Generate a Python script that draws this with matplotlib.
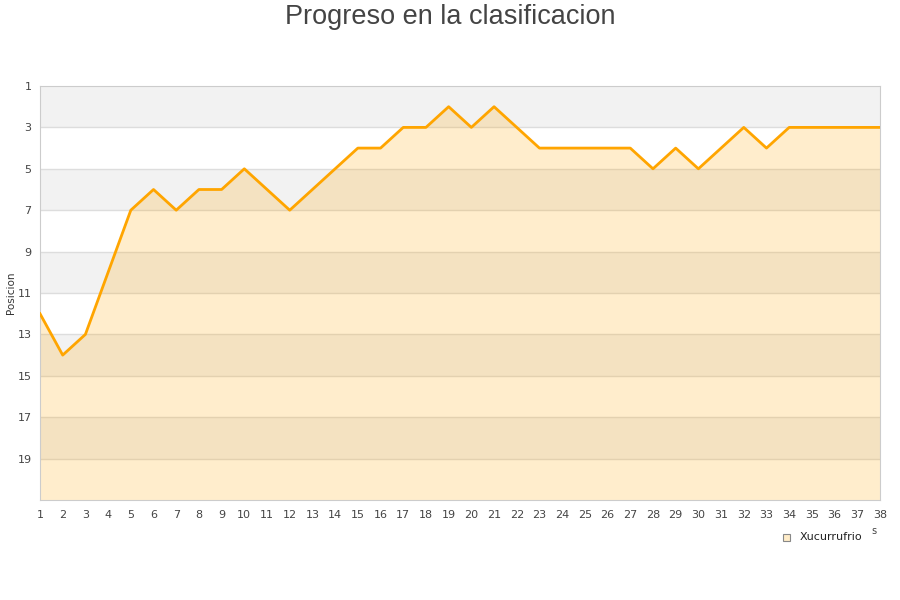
import matplotlib

matplotlib.use("Agg")
import matplotlib.pyplot as plt
from matplotlib.patches import Rectangle

jornadas = list(range(1, 39))
posiciones = [12, 14, 13, 10, 7, 6, 7, 6, 6, 5,
              6, 7, 6, 5, 4, 4, 3, 3, 2, 3,
              2, 3, 4, 4, 4, 4, 4, 5, 4, 5,
              4, 3, 4, 3, 3, 3, 3, 3]
y_ticks = list(range(1, 21, 2))
equipo = "Xucurrufrio"

fig = plt.figure(figsize=(9, 6), dpi=100)
ax = fig.add_axes([40 / 900, 100 / 600, 840 / 900, 414 / 600])

# bandas alternas de fondo
for i, y0 in enumerate(range(1, 21, 2)):
    color = "#f2f2f2" if i % 2 == 0 else "white"
    ax.add_patch(Rectangle((1, y0), 37, 2, facecolor=color, edgecolor="none", zorder=0))

for y in y_ticks[1:]:
    ax.axhline(y, color="#dddddd", linewidth=1, zorder=1)

ax.fill_between(jornadas, posiciones, 21, color="#ffa500", alpha=0.2, linewidth=0, zorder=2)
ax.plot(jornadas, posiciones, color="#ffa500", linewidth=2, zorder=3)

ax.set_xlim(1, 38)
ax.set_ylim(21, 1)
ax.set_xticks(jornadas)
ax.set_yticks(y_ticks)
ax.tick_params(axis="both", length=0, labelsize=8, colors="#444444")
ax.tick_params(axis="x", pad=7)
ax.tick_params(axis="y", pad=6)
for spine in ax.spines.values():
    spine.set_color("#cccccc")
ax.set_ylabel("Posicion", fontsize=7.5, color="#333333")
ax.yaxis.set_label_coords(-24 / 840, 0.5)

fig.text(0.5, 1 - 17 / 600, "Progreso en la clasificacion", ha="center", va="center",
         fontsize=19.5, color="#444444", family="Liberation Sans")
fig.text(874 / 900, 1 - 531 / 600, "s", ha="center", va="center", fontsize=7, color="#444444")

# leyenda
fig.patches.append(Rectangle((783 / 900, 1 - 541 / 600), 7 / 900, 7 / 600,
                             transform=fig.transFigure, facecolor="#ffecc8",
                             edgecolor="#888888", linewidth=0.8))
fig.text(800 / 900, 1 - 537 / 600, equipo, ha="left", va="center", fontsize=8, color="#222222")

fig.savefig("out.png", dpi=100)
